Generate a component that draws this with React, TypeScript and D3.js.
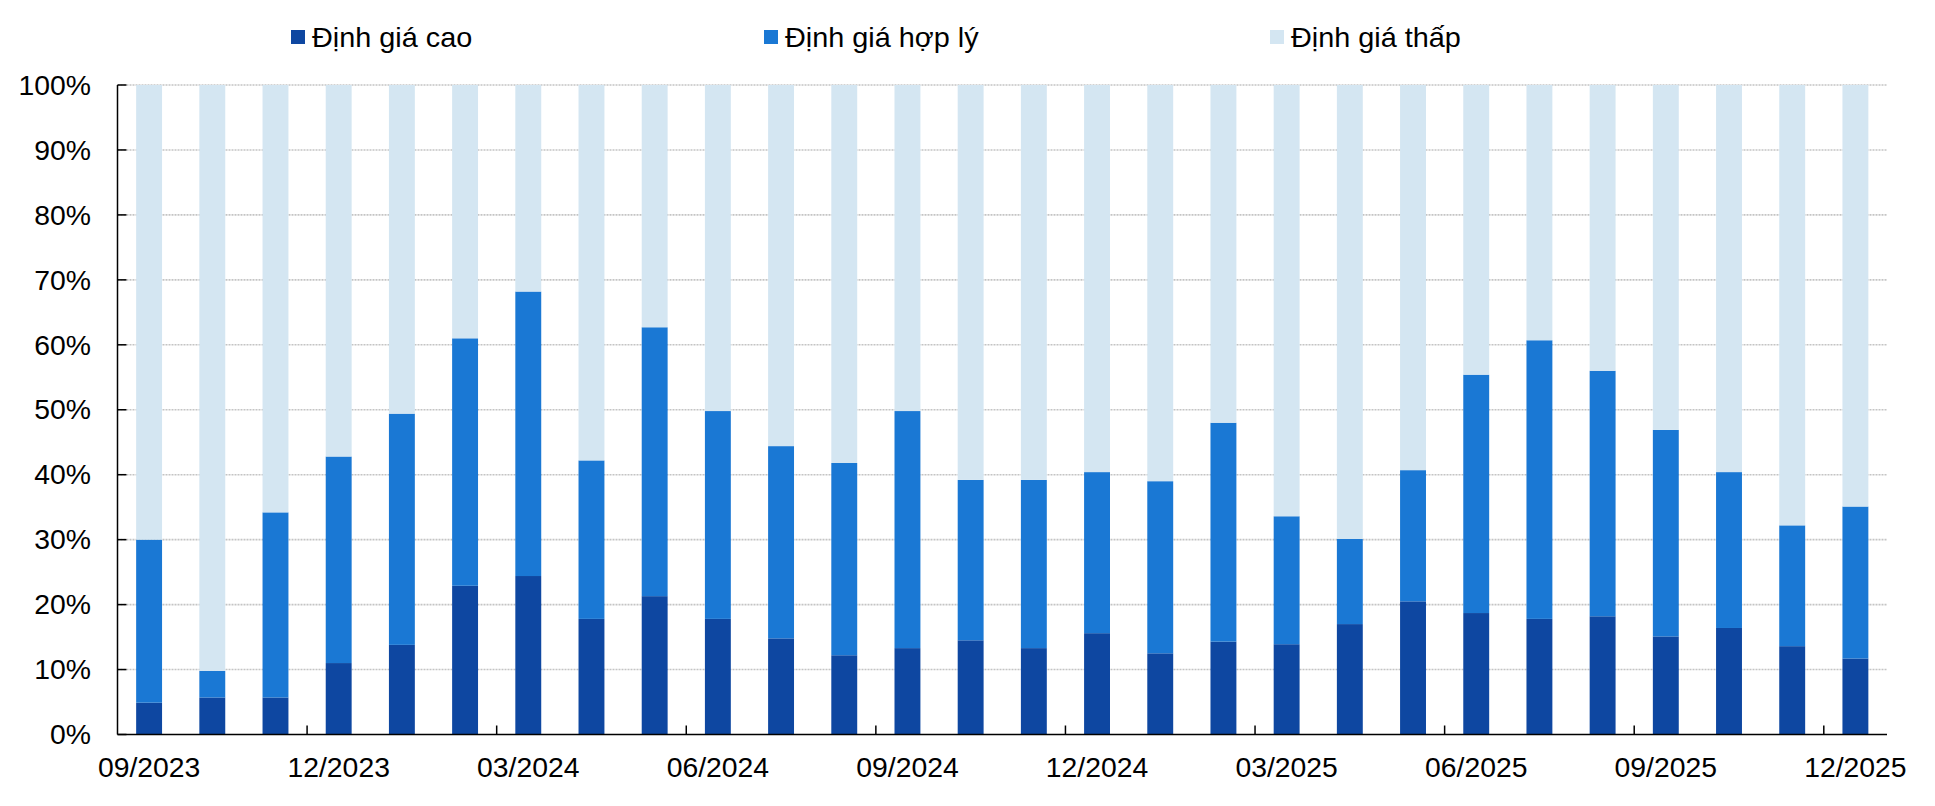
import React from "react";
import * as d3 from "d3";

const categories = [
  "09/2023", "10/2023", "11/2023", "12/2023",
  "01/2024", "02/2024", "03/2024", "04/2024", "05/2024", "06/2024",
  "07/2024", "08/2024", "09/2024", "10/2024", "11/2024", "12/2024",
  "01/2025", "02/2025", "03/2025", "04/2025", "05/2025", "06/2025",
  "07/2025", "08/2025", "09/2025", "10/2025", "11/2025", "12/2025",
];

const highValuation = [
  4.9, 5.7, 5.7, 11.0, 13.8, 22.9, 24.4, 17.8, 21.3, 17.8, 14.8, 12.2, 13.3, 14.5,
  13.3, 15.6, 12.5, 14.3, 13.9, 17.0, 20.5, 18.7, 17.8, 18.2, 15.1, 16.4, 13.6, 11.7,
];
const fairValuation = [
  25.1, 4.1, 28.5, 31.8, 35.6, 38.1, 43.8, 24.4, 41.4, 32.0, 29.6, 29.6, 36.5, 24.7,
  25.9, 24.8, 26.5, 33.7, 19.7, 13.1, 20.2, 36.7, 42.9, 37.8, 31.8, 24.0, 18.6, 23.4,
];
const lowValuation = [
  70.0, 90.2, 65.8, 57.2, 50.6, 39.0, 31.8, 57.8, 37.3, 50.2, 55.6, 58.2, 50.2, 60.8,
  60.8, 59.6, 61.0, 52.0, 66.4, 69.9, 59.3, 44.6, 39.3, 44.0, 53.1, 59.6, 67.8, 64.9,
];

const seriesNames = ["Định giá cao", "Định giá hợp lý", "Định giá thấp"];
const seriesColors = ["#0E47A1", "#1A78D4", "#D4E6F2"];
const yTicks = [0, 10, 20, 30, 40, 50, 60, 70, 80, 90, 100];
const labelEvery = 3;

const W = 1935;
const H = 806;
const FONT = "'Liberation Sans', Arial, sans-serif";

export default function App() {
  const left = 117.5;
  const right = 1887;
  const top = 85;
  const bottom = 734.5;

  const x = d3
    .scaleBand<string>()
    .domain(categories)
    .range([left, right])
    .paddingInner(0.59)
    .paddingOuter(0.295);
  const y = d3.scaleLinear().domain([0, 100]).range([bottom, top]);

  const rows = categories.map((c, i) => ({
    cat: c,
    s0: highValuation[i],
    s1: fairValuation[i],
    s2: lowValuation[i],
  }));
  const stack = d3.stack<any>().keys(["s0", "s1", "s2"]);
  const stacked = stack(rows);

  const step = x.step();
  const tickBoundaries = d3
    .range(labelEvery, categories.length, labelEvery)
    .map((k) => left + step * k);

  const legendX = [291, 764, 1270];
  const sx = 1.05;

  return (
    <div style={{ position: "fixed", left: 0, top: 0 }}>
      <svg width={W} height={H} style={{ display: "block", background: "#fff" }}>
        {/* gridlines */}
        {yTicks.slice(1).map((t) => (
          <line
            key={"g" + t}
            x1={left}
            x2={right}
            y1={y(t)}
            y2={y(t)}
            stroke="#c4c4c4"
            strokeWidth={1.6}
            strokeDasharray="2 1"
          />
        ))}
        {/* bars */}
        {stacked.map((layer, si) => (
          <g key={"s" + si} fill={seriesColors[si]}>
            {layer.map((d: any, i: number) => (
              <rect
                key={i}
                x={x(categories[i])}
                y={y(Math.min(100, d[1]))}
                width={x.bandwidth()}
                height={y(d[0]) - y(Math.min(100, d[1]))}
              />
            ))}
          </g>
        ))}
        {/* y axis */}
        <line x1={left} x2={left} y1={top} y2={bottom} stroke="#000" strokeWidth={1.5} />
        {yTicks.map((t) => (
          <g key={"yt" + t}>
            <line x1={left} x2={left + 9} y1={y(t)} y2={y(t)} stroke="#000" strokeWidth={1.5} />
            <g transform={`translate(91,${y(t)}) scale(${sx},1)`}>
              <text
                x={0}
                y={0}
                dy="0.36em"
                textAnchor="end"
                fontFamily={FONT}
                fontSize={27}
                fill="#000"
              >
                {t + "%"}
              </text>
            </g>
          </g>
        ))}
        {/* x axis */}
        <line x1={left} x2={right} y1={bottom} y2={bottom} stroke="#000" strokeWidth={1.5} />
        {tickBoundaries.map((bx, i) => (
          <line key={"xt" + i} x1={bx} x2={bx} y1={bottom} y2={bottom - 9} stroke="#000" strokeWidth={1.5} />
        ))}
        {categories.map((c, i) =>
          i % labelEvery === 0 ? (
            <g
              key={"xl" + c}
              transform={`translate(${(x(c) as number) + x.bandwidth() / 2},777) scale(${sx},1)`}
            >
              <text x={0} y={0} textAnchor="middle" fontFamily={FONT} fontSize={27} fill="#000">
                {c}
              </text>
            </g>
          ) : null
        )}
        {/* legend */}
        {seriesNames.map((name, i) => (
          <g key={"lg" + i}>
            <rect x={legendX[i]} y={30} width={14} height={14} fill={seriesColors[i]} />
            <g transform={`translate(${legendX[i] + 21},47) scale(1.03,1)`}>
              <text x={0} y={0} fontFamily={FONT} fontSize={28} fill="#000">
                {name}
              </text>
            </g>
          </g>
        ))}
      </svg>
    </div>
  );
}
